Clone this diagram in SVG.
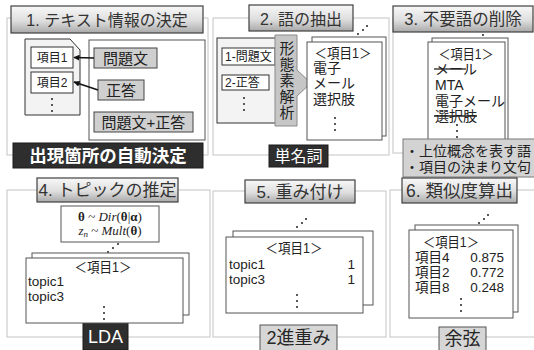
<svg xmlns="http://www.w3.org/2000/svg" width="534" height="350" viewBox="0 0 534 350">
<defs>
  <linearGradient id="tg" x1="0" y1="0" x2="0" y2="1">
    <stop offset="0" stop-color="#f8f8f8"/>
    <stop offset="0.55" stop-color="#dedede"/>
    <stop offset="1" stop-color="#a9a9a9"/>
  </linearGradient>
  <marker id="ah" markerWidth="6" markerHeight="6" refX="5.5" refY="3" orient="auto" markerUnits="userSpaceOnUse">
    <path d="M0,0 L6,3 L0,6 z" fill="#111"/>
  </marker>
</defs>
<style>
  .frame{fill:none;stroke:#c4c4c4;stroke-width:1}
  .title{fill:url(#tg);stroke:#404040;stroke-width:1.2}
  .tt{font-family:"Liberation Sans","Noto Sans CJK JP",sans-serif;fill:#333;text-anchor:middle}
  .blk{fill:#2e2e2e;stroke:#1a1a1a;stroke-width:1}
  .wl{font-family:"Liberation Sans","Noto Sans CJK JP",sans-serif;fill:#fff;text-anchor:middle}
  .gl{fill:#d6d6d6;stroke:#555;stroke-width:1}
  .gt{font-family:"Liberation Sans","Noto Sans CJK JP",sans-serif;fill:#262626;text-anchor:middle}
  .wbox{fill:#fff;stroke:#333;stroke-width:1}
  .gbox{fill:#cfcfcf;stroke:#444;stroke-width:1}
  .lbox{fill:#f3f3f3;stroke:#333;stroke-width:1}
  .doc{fill:#fff;stroke:#555;stroke-width:1}
  .t{font-family:"Liberation Sans","Noto Sans CJK JP",sans-serif;fill:#222}
  .f{font-family:"Liberation Serif","DejaVu Serif",serif;fill:#222;font-size:13px}
  .dot{fill:#222}
  .conn{stroke:#111;stroke-width:1.6;fill:none;marker-end:url(#ah)}
  .strike{stroke:#222;stroke-width:1.3}
</style>
<rect width="534" height="350" fill="#fff"/>

<!-- Panel 1 -->
<g id="panel1">
  <rect class="frame" x="7" y="18" width="201" height="137"/>
  <rect class="title" x="11" y="6" width="192" height="27"/>
  <text class="tt" x="107" y="26" font-size="16">1. テキスト情報の決定</text>
  <rect class="doc" x="89" y="40" width="116" height="100"/>
  <path class="lbox" d="M25,39 H70 L80,50 V115 H25 Z"/>
  <rect class="blk" x="13" y="143" width="190" height="25"/>
  <text class="wl" x="108" y="162" font-size="17.5" font-weight="bold">出現箇所の自動決定</text>
</g>
<g id="item1">
  <rect class="wbox" x="31" y="47" width="42" height="21"/>
  <text class="t" x="52" y="62" font-size="12" text-anchor="middle">項目1</text>
</g>
<g id="item2">
  <rect class="wbox" x="31" y="72" width="42" height="21"/>
  <text class="t" x="52" y="87" font-size="12" text-anchor="middle">項目2</text>
  <circle class="dot" cx="52" cy="99" r="1"/>
  <circle class="dot" cx="52" cy="105" r="1"/>
  <circle class="dot" cx="52" cy="111" r="1"/>
</g>
<g id="mondaibun">
  <rect class="gbox" x="94" y="48" width="63" height="20"/>
  <text class="t" x="125.5" y="64" font-size="15" text-anchor="middle">問題文</text>
</g>
<g id="seito">
  <rect class="gbox" x="98" y="80" width="46" height="20"/>
  <text class="t" x="121" y="96" font-size="15" text-anchor="middle">正答</text>
</g>
<g id="both">
  <rect class="gbox" x="94" y="112" width="99" height="20"/>
  <text class="t" x="143.5" y="128" font-size="15" text-anchor="middle">問題文+正答</text>
</g>
<g id="connectors">
  <line class="conn" x1="94" y1="58" x2="74" y2="57.5"/>
  <line class="conn" x1="98" y1="90" x2="74" y2="82"/>
</g>

<!-- Panel 2 -->
<g id="panel2">
  <rect class="frame" x="213" y="18" width="176" height="137"/>
  <rect class="title" x="249" y="5" width="104" height="26"/>
  <text class="tt" x="301" y="24.5" font-size="16">2. 語の抽出</text>
  <circle class="dot" cx="358" cy="34" r="1"/>
  <circle class="dot" cx="363" cy="30" r="1"/>
  <circle class="dot" cx="367" cy="26" r="1"/>
  <rect class="blk" x="269" y="145" width="59" height="22"/>
  <text class="wl" x="298.5" y="162" font-size="16">単名詞</text>
</g>
<g id="sources">
  <rect class="lbox" x="217" y="38" width="60" height="85"/>
  <rect class="wbox" x="222" y="48" width="53" height="17"/>
  <text class="t" x="225" y="61" font-size="12">1-問題文</text>
  <rect class="wbox" x="222" y="75" width="47" height="15"/>
  <text class="t" x="225" y="87" font-size="12">2-正答</text>
  <circle class="dot" cx="244" cy="98" r="1"/>
  <circle class="dot" cx="244" cy="104" r="1"/>
  <circle class="dot" cx="244" cy="110" r="1"/>
</g>
<g id="morph">
  <path d="M275,35 H297 V70 L311,83 L297,96 V126 H275 Z" fill="#c6c6c6" stroke="#8a8a8a" stroke-width="1"/>
  <g class="t" font-size="15" text-anchor="middle">
    <text x="287" y="54">形</text>
    <text x="287" y="70">態</text>
    <text x="287" y="86">素</text>
    <text x="287" y="102">解</text>
    <text x="287" y="118">析</text>
  </g>
</g>
<g id="words2">
  <rect class="doc" x="312" y="37" width="74" height="99"/>
  <rect class="doc" x="307" y="42" width="75" height="98"/>
  <text class="t" x="343" y="58" font-size="14" text-anchor="middle" textLength="57" lengthAdjust="spacingAndGlyphs">＜項目1＞</text>
  <text class="t" x="313" y="73" font-size="14">電子</text>
  <text class="t" x="313" y="88" font-size="14">メール</text>
  <text class="t" x="313" y="104" font-size="14">選択肢</text>
  <circle class="dot" cx="335" cy="118" r="1"/>
  <circle class="dot" cx="335" cy="124" r="1"/>
  <circle class="dot" cx="335" cy="130" r="1"/>
</g>

<!-- Panel 3 -->
<g id="panel3">
  <rect class="frame" x="393" y="18" width="150" height="135"/>
  <rect class="title" x="393" y="6" width="140" height="26"/>
  <text class="tt" x="463" y="25" font-size="16.5">3. 不要語の削除</text>
  <circle class="dot" cx="483" cy="35" r="1"/>
</g>
<g id="words3">
  <rect class="doc" x="432" y="38" width="76" height="102"/>
  <rect class="doc" x="428" y="42" width="77" height="101"/>
  <text class="t" x="466" y="59" font-size="14" text-anchor="middle" textLength="55" lengthAdjust="spacingAndGlyphs">＜項目1＞</text>
  <text class="t" x="435" y="74" font-size="14">メール</text>
  <line class="strike" x1="434" y1="69" x2="466" y2="69"/>
  <text class="t" x="435" y="90" font-size="14">MTA</text>
  <text class="t" x="435" y="106" font-size="14">電子メール</text>
  <text class="t" x="435" y="121" font-size="14">選択肢</text>
  <line class="strike" x1="434" y1="116" x2="477" y2="116"/>
  <circle class="dot" cx="457" cy="125" r="1"/>
  <circle class="dot" cx="457" cy="131" r="1"/>
  <circle class="dot" cx="457" cy="137" r="1"/>
</g>
<g id="stopnote">
  <rect x="403" y="139" width="133" height="38" fill="#d3d3d3" stroke="#7a7a7a" stroke-width="1"/>
  <text class="t" x="405" y="156" font-size="14">・上位概念を表す語</text>
  <text class="t" x="405" y="172" font-size="14">・項目の決まり文句</text>
</g>

<!-- Panel 4 -->
<g id="panel4">
  <rect class="frame" x="7" y="190" width="203" height="147"/>
  <rect class="title" x="37" y="178" width="141" height="24"/>
  <text class="tt" x="107.5" y="196" font-size="17">4. トピックの推定</text>
  <rect class="blk" x="83" y="322" width="45" height="28"/>
  <text class="wl" x="105.5" y="343" font-size="18">LDA</text>
</g>
<g id="formula">
  <rect class="doc" x="61" y="206" width="98" height="36"/>
  <text class="f" x="110" y="221" text-anchor="middle"><tspan font-weight="bold">θ</tspan> ~ <tspan font-style="italic">Dir</tspan>(<tspan font-weight="bold">θ</tspan>|<tspan font-weight="bold">α</tspan>)</text>
  <text class="f" x="110" y="235" text-anchor="middle"><tspan font-style="italic">z</tspan><tspan font-style="italic" font-size="9" dy="2">n</tspan><tspan dy="-2"> ~ </tspan><tspan font-style="italic">Mult</tspan>(<tspan font-weight="bold">θ</tspan>)</text>
  <circle class="dot" cx="108" cy="252" r="1"/>
  <circle class="dot" cx="113" cy="248" r="1"/>
  <circle class="dot" cx="118" cy="244" r="1"/>
</g>
<g id="topics4">
  <rect class="doc" x="32" y="253" width="157" height="62"/>
  <rect class="doc" x="26" y="258" width="157" height="65"/>
  <text class="t" x="103" y="272" font-size="14" text-anchor="middle" textLength="57" lengthAdjust="spacingAndGlyphs">＜項目1＞</text>
  <text class="t" x="28" y="286" font-size="13.5">topic1</text>
  <text class="t" x="28" y="301" font-size="13.5">topic3</text>
  <circle class="dot" cx="104" cy="307" r="1"/>
  <circle class="dot" cx="104" cy="313" r="1"/>
  <circle class="dot" cx="104" cy="319" r="1"/>
</g>

<!-- Panel 5 -->
<g id="panel5">
  <rect class="frame" x="213" y="191" width="173" height="146"/>
  <rect class="title" x="245" y="180" width="110" height="23"/>
  <text class="tt" x="300" y="197.5" font-size="17">5. 重み付け</text>
  <circle class="dot" cx="297" cy="227" r="1"/>
  <circle class="dot" cx="302" cy="223" r="1"/>
  <circle class="dot" cx="306" cy="219" r="1"/>
  <rect class="gl" x="260" y="325" width="77" height="26"/>
  <text class="gt" x="298.5" y="344" font-size="18">2進重み</text>
</g>
<g id="weights">
  <rect class="doc" x="233" y="231" width="140" height="74"/>
  <rect class="doc" x="226" y="237" width="137" height="76"/>
  <text class="t" x="294" y="253" font-size="14" text-anchor="middle" textLength="57" lengthAdjust="spacingAndGlyphs">＜項目1＞</text>
  <text class="t" x="229" y="269" font-size="13.5">topic1</text>
  <text class="t" x="355" y="269" font-size="13.5" text-anchor="end">1</text>
  <text class="t" x="229" y="284" font-size="13.5">topic3</text>
  <text class="t" x="355" y="284" font-size="13.5" text-anchor="end">1</text>
  <circle class="dot" cx="297" cy="295" r="1"/>
  <circle class="dot" cx="297" cy="301" r="1"/>
  <circle class="dot" cx="297" cy="307" r="1"/>
</g>

<!-- Panel 6 -->
<g id="panel6">
  <rect class="frame" x="390" y="190" width="150" height="147"/>
  <rect class="title" x="402" y="178" width="115" height="25"/>
  <text class="tt" x="459.5" y="197" font-size="17.5">6. 類似度算出</text>
  <circle class="dot" cx="479" cy="223" r="1"/>
  <circle class="dot" cx="484" cy="219" r="1"/>
  <circle class="dot" cx="488" cy="215" r="1"/>
  <rect class="gl" x="439" y="327" width="47" height="24"/>
  <text class="gt" x="462.5" y="345" font-size="18">余弦</text>
</g>
<g id="similarity">
  <rect class="doc" x="415" y="225" width="103" height="87"/>
  <rect class="doc" x="409" y="230" width="104" height="88"/>
  <text class="t" x="451" y="247" font-size="14" text-anchor="middle" textLength="56" lengthAdjust="spacingAndGlyphs">＜項目1＞</text>
  <text class="t" x="415" y="262" font-size="13.5">項目4</text>
  <text class="t" x="504" y="262" font-size="13.5" text-anchor="end">0.875</text>
  <text class="t" x="415" y="277" font-size="13.5">項目2</text>
  <text class="t" x="504" y="277" font-size="13.5" text-anchor="end">0.772</text>
  <text class="t" x="415" y="292" font-size="13.5">項目8</text>
  <text class="t" x="504" y="292" font-size="13.5" text-anchor="end">0.248</text>
  <circle class="dot" cx="461" cy="299" r="1"/>
  <circle class="dot" cx="461" cy="305" r="1"/>
  <circle class="dot" cx="461" cy="311" r="1"/>
</g>
</svg>
